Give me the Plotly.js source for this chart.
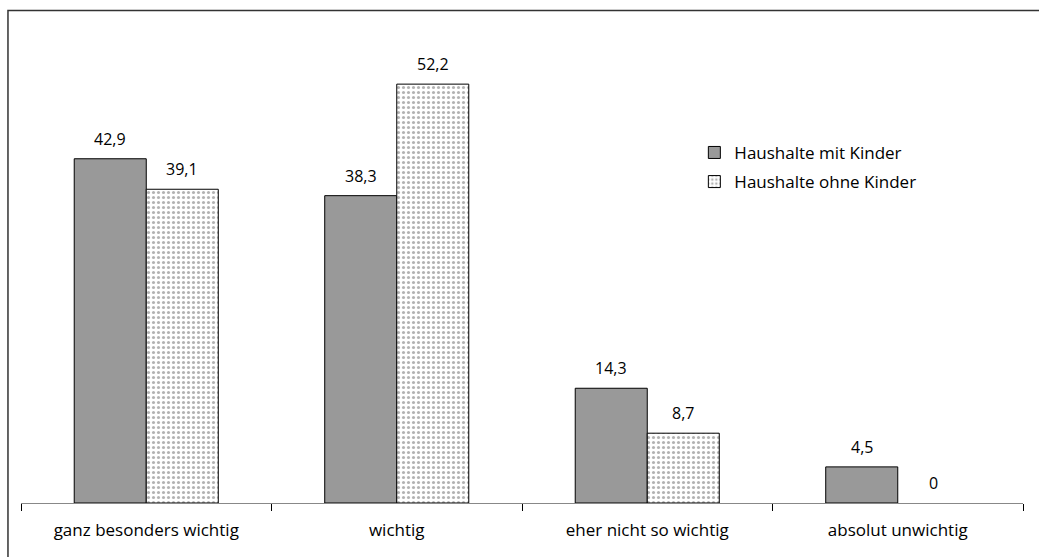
<!DOCTYPE html>
<html>
<head>
<meta charset="utf-8">
<script src="https://cdn.plot.ly/plotly-3.0.1.min.js"></script>
<style>html,body{margin:0;padding:0;background:#fff;}#chart{width:1039px;height:557px;}</style>
</head>
<body>
<div id="chart"></div>
<script>
var categories = ["ganz besonders wichtig", "wichtig", "eher nicht so wichtig", "absolut unwichtig"];
var seriesNames = ["Haushalte mit Kinder", "Haushalte ohne Kinder"];
var mitKinder = [42.9, 38.3, 14.3, 4.5];
var ohneKinder = [39.1, 52.2, 8.7, 0];

function fmt(v) { return String(v).replace(".", ","); }
function lineWidths(vals) { return vals.map(function (v) { return v === 0 ? 0 : 1; }); }

var FONT = "'Open Sans', sans-serif";

var traces = [
  {
    type: "bar", name: seriesNames[0], x: categories, y: mitKinder, legendgroup: "a",
    marker: { color: "#999999", line: { color: "#000000", width: lineWidths(mitKinder) } },
    hoverinfo: "skip"
  },
  {
    type: "bar", name: seriesNames[1], x: categories, y: ohneKinder, legendgroup: "b",
    marker: {
      color: "#ffffff",
      line: { color: "#000000", width: lineWidths(ohneKinder) },
      pattern: { shape: ".", fgcolor: "#666666", bgcolor: "#ffffff", size: 5, solidity: 0.3, fillmode: "overlay" }
    },
    hoverinfo: "skip"
  }
];

var annotations = [];
var groups = [mitKinder, ohneKinder];
groups.forEach(function (vals, gi) {
  vals.forEach(function (v, i) {
    annotations.push({
      x: categories[i], y: v, xref: "x", yref: "y",
      xshift: gi === 0 ? -36 : 36, yshift: 20, yanchor: "middle",
      text: fmt(v), showarrow: false,
      font: { family: FONT, size: 16, color: "#000" }
    });
  });
});

var layout = {
  width: 1039, height: 557,
  margin: { l: 21, r: 16, t: 40, b: 54 },
  paper_bgcolor: "#ffffff", plot_bgcolor: "#ffffff",
  barmode: "group", bargap: 0.425, bargroupgap: 0,
  showlegend: true,
  legend: {
    x: 0.672, y: 0.795, xanchor: "left", yanchor: "top",
    font: { family: FONT, size: 17, color: "#000" },
    traceorder: "grouped", tracegroupgap: 4, itemwidth: 30, bgcolor: "rgba(0,0,0,0)"
  },
  xaxis: {
    type: "category", showline: true, linecolor: "#888888", linewidth: 1,
    ticks: "outside", tickson: "boundaries", ticklen: 7, tickcolor: "#000000",
    ticklabelstandoff: 12,
    showgrid: false, zeroline: false, fixedrange: true,
    tickfont: { family: FONT, size: 17, color: "#000" }
  },
  yaxis: {
    range: [0, 57.7], visible: false, showgrid: false, zeroline: false, fixedrange: true
  },
  annotations: annotations,
  shapes: [{
    type: "rect", xref: "paper", yref: "paper",
    x0: -0.013, x1: 1.05, y0: -0.2, y1: 1.0637,
    line: { color: "#333333", width: 1.5 }, fillcolor: "rgba(0,0,0,0)", layer: "below"
  }]
};

Plotly.newPlot("chart", traces, layout, { displayModeBar: false, staticPlot: true });
</script>
</body>
</html>
